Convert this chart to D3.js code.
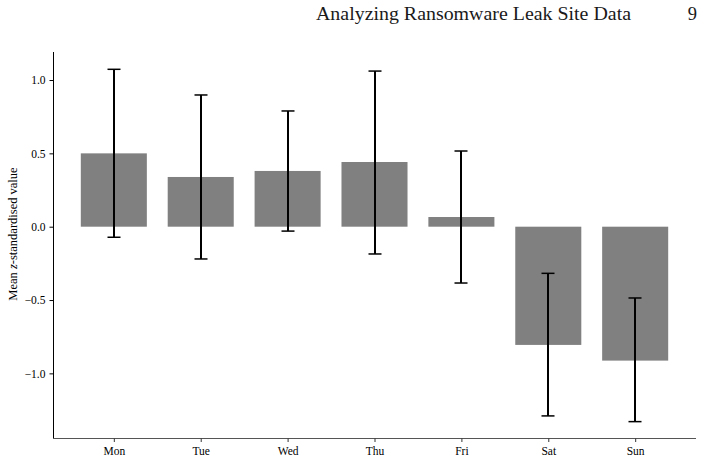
<!DOCTYPE html>
<html>
<head>
<meta charset="utf-8">
<script src="https://cdn.jsdelivr.net/npm/d3@7"></script>
<style>
  html, body { margin: 0; padding: 0; background: #fff; }
  svg { display: block; }
</style>
</head>
<body>
<svg id="chart" width="704" height="463"></svg>
<script>
const days = ["Mon", "Tue", "Wed", "Thu", "Fri", "Sat", "Sun"];
const means = [0.50, 0.339, 0.38, 0.441, 0.066, -0.806, -0.913];
const errLow = [-0.072, -0.22, -0.03, -0.186, -0.384, -1.29, -1.329];
const errHigh = [1.073, 0.898, 0.789, 1.061, 0.516, -0.318, -0.486];
const yTicks = [1.0, 0.5, 0.0, -0.5, -1.0];
const headerTitle = "Analyzing Ransomware Leak Site Data";
const pageNumber = "9";

(function () {
const svg = d3.select("#chart");
const mLeft = 53, mRight = 696, mTop = 52, mBottom = 438.5;

const x = d3.scaleLinear().domain([-0.7, 6.7]).range([mLeft, mRight]);
const y = d3.scaleLinear().domain([-1.444, 1.191]).range([mBottom, mTop]);
const barW = x(0.76) - x(0);
const serif = "'Liberation Serif', 'Times New Roman', serif";

// header
svg.append("text").attr("x", 316).attr("y", 19.5)
  .attr("font-family", serif).attr("font-size", 18.5)
  .attr("textLength", 315).attr("lengthAdjust", "spacingAndGlyphs")
  .attr("fill", "#1a1a1a").text(headerTitle);
svg.append("text").attr("x", 697).attr("y", 19.5).attr("text-anchor", "end")
  .attr("font-family", serif).attr("font-size", 18.5)
  .attr("fill", "#1a1a1a").text(pageNumber);

// bars
svg.append("g").selectAll("rect").data(means).join("rect")
  .attr("x", (d, i) => x(i) - barW / 2)
  .attr("width", barW)
  .attr("y", d => y(Math.max(0, d)))
  .attr("height", d => Math.abs(y(d) - y(0)))
  .attr("fill", "#808080");

// error bars
const eg = svg.append("g").attr("stroke", "#000").attr("stroke-width", 2);
days.forEach((d, i) => {
  const cx = Math.round(x(i));
  eg.append("line").attr("x1", cx).attr("x2", cx).attr("y1", y(errLow[i])).attr("y2", y(errHigh[i]));
  eg.append("line").attr("x1", cx - 6.5).attr("x2", cx + 6.5).attr("y1", y(errLow[i])).attr("y2", y(errLow[i])).attr("stroke-width", 1.5);
  eg.append("line").attr("x1", cx - 6.5).attr("x2", cx + 6.5).attr("y1", y(errHigh[i])).attr("y2", y(errHigh[i])).attr("stroke-width", 1.5);
});

// y axis
const yAxis = svg.append("g").attr("transform", `translate(${mLeft},0)`)
  .call(d3.axisLeft(y).tickValues(yTicks).tickSize(3.5).tickPadding(4)
    .tickFormat(d => d3.format(".1f")(d).replace("-", "\u2212")));
yAxis.select(".domain").attr("stroke", "#000").attr("d", `M0.5,${mTop}V${mBottom}`);
yAxis.selectAll(".tick line").attr("stroke", "#000");
yAxis.selectAll("text").attr("font-family", serif).attr("font-size", 11.5).attr("fill", "#000");

// x axis
const xAxis = svg.append("g").attr("transform", `translate(0,${mBottom})`)
  .call(d3.axisBottom(x).tickValues(d3.range(days.length)).tickSize(3.5).tickPadding(5)
    .tickFormat(i => days[i]));
xAxis.select(".domain").attr("stroke", "#555").attr("d", `M${mLeft},0H${mRight}`);
xAxis.selectAll(".tick line").attr("stroke", "#333");
xAxis.selectAll("text").attr("font-family", serif).attr("font-size", 11.5).attr("fill", "#000");

// y label
const yl = svg.append("text")
  .attr("transform", `translate(17,${y(-0.05)}) rotate(-90)`)
  .attr("text-anchor", "middle")
  .attr("font-family", serif).attr("font-size", 12.5).attr("fill", "#000");
yl.append("tspan").text("Mean ");
yl.append("tspan").attr("font-style", "italic").text("z");
yl.append("tspan").text("-standardised value");
})();
</script>
</body>
</html>
